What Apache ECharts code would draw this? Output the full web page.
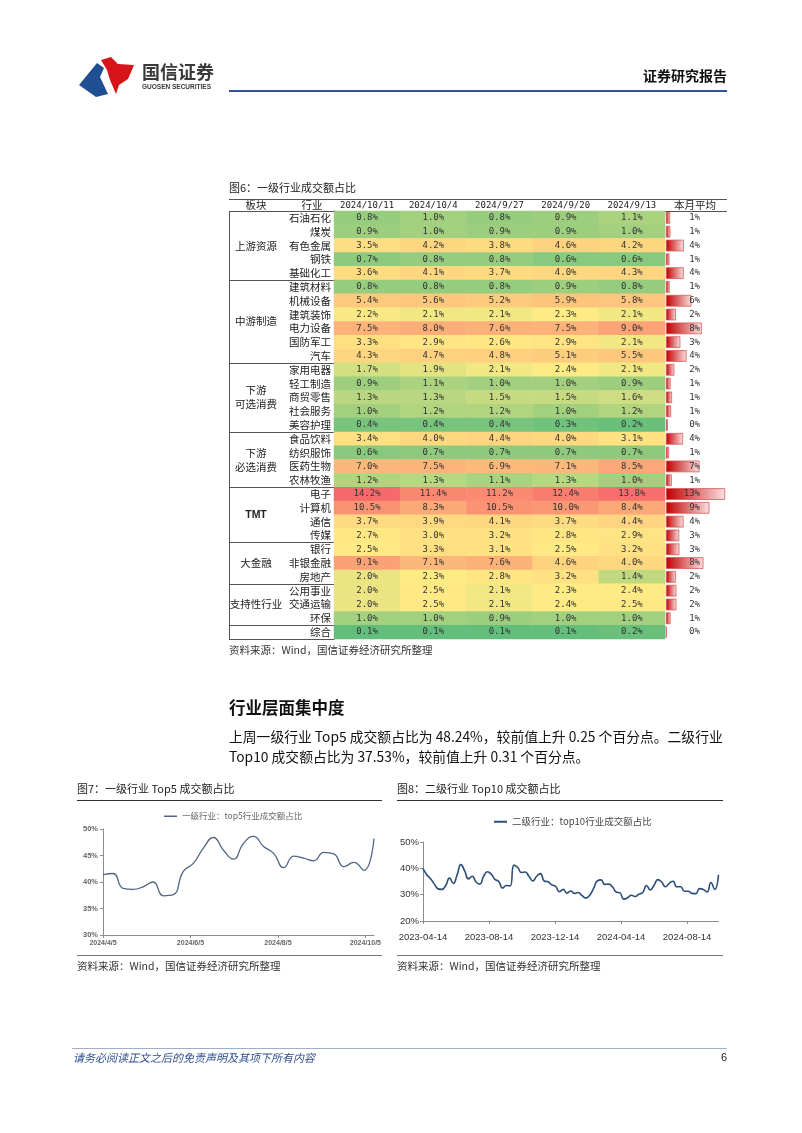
<!DOCTYPE html>
<html><head><meta charset="utf-8">
<script src="https://cdn.jsdelivr.net/npm/echarts/dist/echarts.min.js"></script>
<style>html,body{margin:0;padding:0;background:#fff}#c{width:802px;height:1133px}</style>
</head><body><div id="c"></div>
<script>
// ---------------- DATA ----------------
const dates = ['2024/10/11','2024/10/4','2024/9/27','2024/9/20','2024/9/13'];
const industries = ['石油石化','煤炭','有色金属','钢铁','基础化工','建筑材料','机械设备','建筑装饰','电力设备','国防军工','汽车',
  '家用电器','轻工制造','商贸零售','社会服务','美容护理','食品饮料','纺织服饰','医药生物','农林牧渔',
  '电子','计算机','通信','传媒','银行','非银金融','房地产','公用事业','交通运输','环保','综合'];
const sectorNames = ['上游资源','中游制造','下游\n可选消费','下游\n必选消费','TMT','大金融','支持性行业',''];
const sectorSizes = [5,6,5,4,4,3,3,1];
const v1011 = [0.8,0.9,3.5,0.7,3.6,0.8,5.4,2.2,7.5,3.3,4.3,1.7,0.9,1.3,1.0,0.4,3.4,0.6,7.0,1.2,14.2,10.5,3.7,2.7,2.5,9.1,2.0,2.0,2.0,1.0,0.1];
const v1004 = [1.0,1.0,4.2,0.8,4.1,0.8,5.6,2.1,8.0,2.9,4.7,1.9,1.1,1.3,1.2,0.4,4.0,0.7,7.5,1.3,11.4,8.3,3.9,3.0,3.3,7.1,2.3,2.5,2.5,1.0,0.1];
const v0927 = [0.8,0.9,3.8,0.8,3.7,0.8,5.2,2.1,7.6,2.6,4.8,2.1,1.0,1.5,1.2,0.4,4.4,0.7,6.9,1.1,11.2,10.5,4.1,3.2,3.1,7.6,2.8,2.1,2.1,0.9,0.1];
const v0920 = [0.9,0.9,4.6,0.6,4.0,0.9,5.9,2.3,7.5,2.9,5.1,2.4,1.0,1.5,1.0,0.3,4.0,0.7,7.1,1.3,12.4,10.0,3.7,2.8,2.5,4.6,3.2,2.3,2.4,1.0,0.1];
const v0913 = [1.1,1.0,4.2,0.6,4.3,0.8,5.8,2.1,9.0,2.1,5.5,2.1,0.9,1.6,1.2,0.2,3.1,0.7,8.5,1.0,13.8,8.4,4.4,2.9,3.2,4.0,1.4,2.4,2.5,1.0,0.2];
const monthAvg = [0.9,0.95,3.85,0.75,3.85,0.8,5.5,2.15,7.75,3.1,4.45,1.8,1.0,1.3,1.1,0.4,3.7,0.65,7.25,1.25,12.8,9.4,3.8,2.85,2.9,8.1,2.15,2.25,2.25,1.0,0.1];

const fig7Start = '2024-04-05';   // weekly
const fig7Values = [41.4,41.6,38.8,38.6,39.1,40.0,37.4,37.6,42.0,43.5,46.4,48.4,46.0,44.3,47.3,48.6,46.7,45.4,42.7,44.9,44.5,44.0,45.6,45.3,42.9,43.7,42.2,48.2];
const fig8Start = '2023-04-14';   // weekly
const fig8Values = [39.9,37.6,36.0,34.0,32.2,32.0,33.5,36.3,34.3,37.5,41.4,39.0,36.0,37.0,34.8,34.0,37.0,38.7,37.8,35.8,
  35.0,32.5,33.5,33.3,41.2,40.3,38.4,38.6,36.9,35.2,37.0,38.0,35.2,34.9,33.7,33.2,31.1,32.0,30.6,31.4,
  30.5,30.8,29.6,28.7,29.8,32.3,35.2,35.6,33.9,34.0,33.0,31.0,30.7,28.3,28.8,29.8,29.3,30.2,30.8,33.5,
  31.8,33.6,35.7,34.8,33.0,34.3,35.1,33.0,33.0,31.3,31.3,30.5,30.4,32.3,32.0,31.0,34.6,32.0,37.5];
const fig7Name = '一级行业：top5行业成交额占比';
const fig8Name = '二级行业：top10行业成交额占比';

// ---------------- LAYOUT ----------------
const CJK = '"Noto Sans CJK SC","Noto Sans",sans-serif';
const MONO = '"DejaVu Sans Mono",monospace';
const NARROW = '"Liberation Sans Narrow","Liberation Sans",sans-serif';
const T_LEFT = 229, T_RIGHT = 727, HEAD_TOP = 199, BODY_TOP = 211, BODY_H = 428, HM_LEFT = 334, HM_W = 331, BAR_LEFT = 666, BAR_W = 60;
const ROWH = BODY_H / industries.length;

const cols = [v1011, v1004, v0927, v0920, v0913];
const heat = [];
cols.forEach((arr, c) => arr.forEach((v, r) => heat.push([c, r, v])));
const allVals = heat.map(d => d[2]).slice().sort((a, b) => a - b);
const vMin = allVals[0], vMax = allVals[allVals.length - 1];
const vMid = (function () { const p = (allVals.length - 1) * 0.5, lo = Math.floor(p), hi = Math.ceil(p); return allVals[lo] + (allVals[hi] - allVals[lo]) * (p - lo); })();
const CG = [99,190,123], CY = [255,235,132], CR = [248,105,107];
function mix(a, b, t) { return 'rgb(' + a.map((x, i) => Math.round(x + (b[i] - x) * t)).join(',') + ')'; }
function scaleColor(v) { return v <= vMid ? mix(CG, CY, (v - vMin) / (vMid - vMin)) : mix(CY, CR, (v - vMid) / (vMax - vMid)); }
const stops = []; const NS = 300;
for (let k = 0; k <= NS; k++) stops.push(scaleColor(vMin + (vMax - vMin) * k / NS));

function fmtDate(start, d, sep) {
  const t = new Date(start + 'T00:00:00Z'); t.setUTCDate(t.getUTCDate() + d);
  const y = t.getUTCFullYear(), m = t.getUTCMonth() + 1, dd = t.getUTCDate();
  return sep === '/' ? y + '/' + m + '/' + dd : y + '-' + String(m).padStart(2, '0') + '-' + String(dd).padStart(2, '0');
}

// ---------------- GRAPHIC (page text & table rules) ----------------
const g = [];
function txt(text, x, y, o) {
  o = o || {};
  g.push({ type: 'text', silent: true, style: Object.assign({ text, x, y, fill: o.fill || '#222', fontSize: o.size || 11, fontFamily: o.family || CJK,
    fontWeight: o.weight || 'normal', fontStyle: o.style || 'normal', lineHeight: o.lh,
    align: o.align || 'left', textAlign: o.align || 'left', verticalAlign: 'middle', textVerticalAlign: 'middle' }) });
}
function line(x1, y1, x2, y2, stroke, lw) {
  g.push({ type: 'line', silent: true, shape: { x1, y1, x2, y2 }, style: { stroke, lineWidth: lw || 1 } });
}
// header logo
g.push({ type: 'polygon', silent: true, shape: { points: [[79,85],[97,63],[104,68],[100,77],[108,94],[96,97]] }, style: { fill: '#1f4e93' } });
g.push({ type: 'polygon', silent: true, shape: { points: [[101,60],[111,57],[118,64],[134,65],[128,79],[119,85],[116,94],[110,80],[107,70]] }, style: { fill: '#d7141a' } });
txt('国信证券', 142, 72, { size: 18, fill: '#3a3a3a', weight: 'bold' });
txt('GUOSEN SECURITIES', 142, 87, { size: 6.5, fill: '#3a3a3a', family: '"Liberation Sans",sans-serif', weight: 'bold' });
txt('证券研究报告', 727, 76, { size: 14, weight: 'bold', align: 'right', fill: '#111' });
line(229, 91, 727, 91, '#2f5597', 2);

// figure 6
txt('图6：一级行业成交额占比', 229, 188, { size: 11 });
line(T_LEFT, HEAD_TOP + 0.5, T_RIGHT, HEAD_TOP + 0.5, '#555', 1);
line(T_LEFT, BODY_TOP + 0.5, T_RIGHT, BODY_TOP + 0.5, '#555', 1);
line(T_LEFT + 0.5, BODY_TOP, T_LEFT + 0.5, BODY_TOP + BODY_H, '#555', 1);
txt('板块', 256, 205, { size: 10.5, align: 'center' });
txt('行业', 312, 205, { size: 10.5, align: 'center' });
txt('本月平均', 695, 205, { size: 10.5, align: 'center' });
let acc = 0;
sectorSizes.forEach((n, i) => {
  const yc = BODY_TOP + (acc + n / 2) * ROWH;
  if (sectorNames[i]) txt(sectorNames[i], 256, yc, { size: 10.5, align: 'center', lh: 14, family: sectorNames[i] === 'TMT' ? '"Liberation Sans",sans-serif' : CJK, weight: sectorNames[i] === 'TMT' ? 'bold' : 'normal' });
  acc += n;
  const yl = Math.round(BODY_TOP + acc * ROWH) + 0.5;
  line(T_LEFT, yl, HM_LEFT, yl, '#555', 1);
});
txt('资料来源：Wind，国信证券经济研究所整理', 229, 650, { size: 10.5, fill: '#333' });

// text section
txt('行业层面集中度', 229, 708, { size: 16.5, weight: 'bold', fill: '#111' });
txt('上周一级行业 Top5 成交额占比为 48.24%，较前值上升 0.25 个百分点。二级行业', 229, 737, { size: 13.8, fill: '#111' });
txt('Top10 成交额占比为 37.53%，较前值上升 0.31 个百分点。', 229, 757, { size: 13.8, fill: '#111' });

// figure 7 & 8 frames
txt('图7：一级行业 Top5 成交额占比', 77, 789, { size: 11 });
line(77, 800.5, 382, 800.5, '#333', 1);
line(77, 955.5, 382, 955.5, '#777', 1);
txt('资料来源：Wind，国信证券经济研究所整理', 77, 966, { size: 10.5, fill: '#333' });
txt('图8：二级行业 Top10 成交额占比', 397, 789, { size: 11 });
line(397, 800.5, 723, 800.5, '#333', 1);
line(397, 955.5, 723, 955.5, '#777', 1);
txt('资料来源：Wind，国信证券经济研究所整理', 397, 966, { size: 10.5, fill: '#333' });

// footer
line(72, 1048.5, 727, 1048.5, '#9fb0c6', 1);
txt('请务必阅读正文之后的免责声明及其项下所有内容', 73, 1058, { size: 11, fill: '#2f4f8f', style: 'italic' });
txt('6', 727, 1058, { size: 11, align: 'right', fill: '#222', family: '"Liberation Sans",sans-serif' });

// ---------------- CHART ----------------
const chart = echarts.init(document.getElementById('c'), null, { renderer: 'canvas', width: 802, height: 1133 });
const noGridBounds = { containLabel: false, outerBoundsMode: 'none' };
chart.setOption({
  animation: false,
  backgroundColor: '#fff',
  textStyle: { fontFamily: CJK },
  grid: [
    Object.assign({ left: HM_LEFT, top: BODY_TOP, width: HM_W, height: BODY_H }, noGridBounds),
    Object.assign({ left: BAR_LEFT, top: BODY_TOP, width: BAR_W, height: BODY_H }, noGridBounds),
    Object.assign({ left: 103, top: 829, width: 271, height: 106 }, noGridBounds),
    Object.assign({ left: 423, top: 842, width: 295.5, height: 79 }, noGridBounds)
  ],
  visualMap: [{ type: 'continuous', show: false, seriesIndex: 0, dimension: 2, min: vMin, max: vMax, inRange: { color: stops } }],
  legend: [
    { data: [fig7Name], left: 159, top: 807, icon: 'rect', itemWidth: 13, itemHeight: 1.5, itemGap: 4, selectedMode: false,
      textStyle: { fontSize: 8.5, color: '#666', fontFamily: CJK } },
    { data: [fig8Name], left: 489, top: 812, icon: 'rect', itemWidth: 13, itemHeight: 2, itemGap: 4, selectedMode: false,
      textStyle: { fontSize: 9.5, color: '#444', fontFamily: CJK } }
  ],
  xAxis: [
    { gridIndex: 0, type: 'category', data: dates, position: 'top', axisLine: { show: false }, axisTick: { show: false },
      axisLabel: { interval: 0, hideOverlap: false, margin: 1, fontFamily: MONO, fontSize: 9, color: '#222' } },
    { gridIndex: 1, type: 'value', min: 0, max: 13, show: false },
    { gridIndex: 2, type: 'value', min: 0, max: (fig7Values.length - 1) * 7, interval: 61,
      axisLine: { lineStyle: { color: '#8c8c8c', width: 1 } }, axisTick: { show: true, length: 3, lineStyle: { color: '#8c8c8c' } },
      splitLine: { show: false },
      axisLabel: { showMaxLabel: false, margin: 5, fontSize: 7, fontWeight: 'bold', color: '#666', fontFamily: '"Liberation Sans",sans-serif',
        formatter: d => fmtDate(fig7Start, d, '/') } },
    { gridIndex: 3, type: 'value', min: 0, max: (fig8Values.length - 1) * 7, interval: 122,
      axisLine: { lineStyle: { color: '#8c8c8c', width: 1 } }, axisTick: { show: true, length: 3, lineStyle: { color: '#8c8c8c' } },
      splitLine: { show: false },
      axisLabel: { showMaxLabel: false, margin: 11, fontSize: 9.5, color: '#333', fontFamily: NARROW,
        formatter: d => fmtDate(fig8Start, d, '-') } }
  ],
  yAxis: [
    { gridIndex: 0, type: 'category', data: industries, inverse: true,
      axisLine: { show: true, lineStyle: { color: '#555', width: 1 } }, axisTick: { show: false },
      axisLabel: { interval: 0, margin: 3, fontSize: 10.5, color: '#222', fontFamily: CJK } },
    { gridIndex: 1, type: 'category', data: industries, inverse: true, show: false },
    { gridIndex: 2, type: 'value', min: 30, max: 50, interval: 5,
      axisLine: { show: true, lineStyle: { color: '#8c8c8c' } }, axisTick: { show: true, length: 3, lineStyle: { color: '#8c8c8c' } },
      splitLine: { show: false },
      axisLabel: { margin: 5, fontSize: 7.5, fontWeight: 'bold', color: '#666', fontFamily: '"Liberation Sans",sans-serif', formatter: '{value}%' } },
    { gridIndex: 3, type: 'value', min: 20, max: 50, interval: 10,
      axisLine: { show: true, lineStyle: { color: '#8c8c8c' } }, axisTick: { show: true, length: 3, lineStyle: { color: '#8c8c8c' } },
      splitLine: { show: false },
      axisLabel: { margin: 4, fontSize: 9.5, color: '#333', fontFamily: NARROW, formatter: '{value}%' } }
  ],
  series: [
    { type: 'heatmap', xAxisIndex: 0, yAxisIndex: 0, data: heat,
      itemStyle: { borderWidth: 0 }, emphasis: { disabled: true },
      label: { show: true, fontFamily: MONO, fontSize: 9, color: '#333', formatter: p => p.value[2].toFixed(1) + '%' } },
    { type: 'bar', xAxisIndex: 1, yAxisIndex: 1, data: monthAvg, barCategoryGap: '16%',
      itemStyle: { color: new echarts.graphic.LinearGradient(0, 0, 1, 0, [{ offset: 0, color: '#c00000' }, { offset: 1, color: '#fbe0e0' }]),
        borderColor: '#d44a4a', borderWidth: 0.7 },
      emphasis: { disabled: true },
      label: { show: true, position: [34, '50%'], align: 'right', verticalAlign: 'middle', fontFamily: MONO, fontSize: 9, color: '#333',
        formatter: p => Math.round(p.value) + '%' } },
    { type: 'line', name: fig7Name, xAxisIndex: 2, yAxisIndex: 2, data: fig7Values.map((v, i) => [i * 7, v]),
      smooth: 0.5, symbol: 'none', lineStyle: { color: '#4f6785', width: 1.3 }, itemStyle: { color: '#4f6785' } },
    { type: 'line', name: fig8Name, xAxisIndex: 3, yAxisIndex: 3, data: fig8Values.map((v, i) => [i * 7, v]),
      smooth: 0.5, symbol: 'none', lineStyle: { color: '#2c4d78', width: 1.6 }, itemStyle: { color: '#2c4d78' } }
  ],
  graphic: { elements: g }
});
</script>
</body></html>
